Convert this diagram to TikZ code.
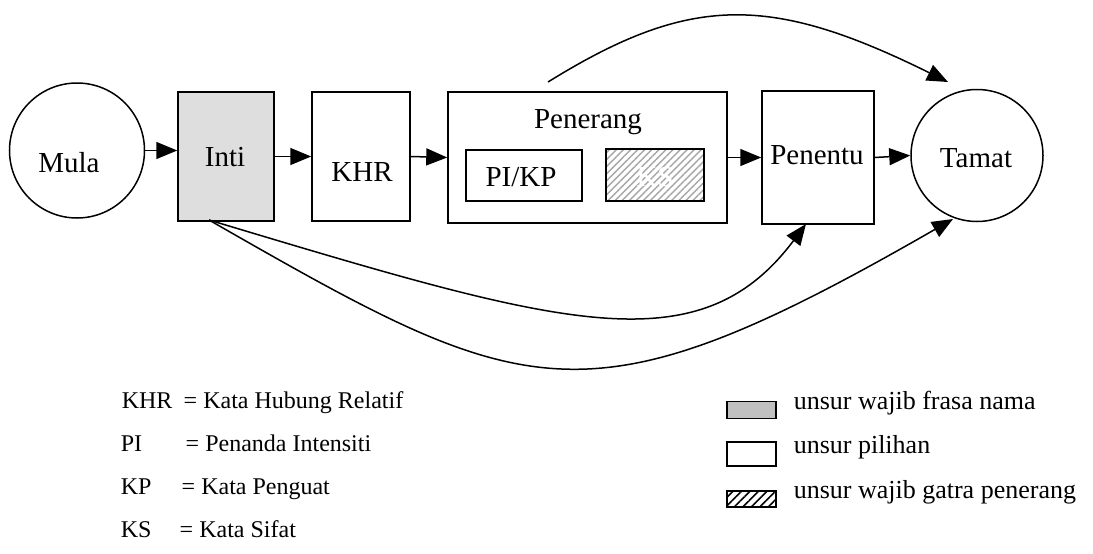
\documentclass[tikz,border=0pt]{standalone}
\usepackage{fontspec}
\setmainfont{Liberation Serif}
\usetikzlibrary{arrows.meta,patterns.meta}
\begin{document}
\begin{tikzpicture}[x=1pt,y=-1pt,
  line width=1.5pt,
  mainfont/.style={font=\fontsize{29}{32}\selectfont},
  lbl/.style={mainfont, anchor=base, inner sep=0},
  legl/.style={font=\fontsize{24}{27}\selectfont, anchor=base west, inner sep=0},
  legr/.style={font=\fontsize{26}{29}\selectfont, anchor=base west, inner sep=0},
  box/.style={draw, line width=1.5pt, inner sep=0},
  circ/.style={draw, circle, line width=1.5pt, inner sep=0},
  arr/.style={-{Triangle[length=21pt,width=17pt]}, line width=1.5pt},
  hatchgray/.style={pattern={Lines[angle=45,distance=5pt,line width=1.4pt]}, pattern color=gray!70},
  hatchblack/.style={pattern={Lines[angle=45,distance=6pt,line width=1.6pt]}, pattern color=black}
]
\useasboundingbox (0,0) rectangle (1093,554);

% shapes
\node[circ, minimum size=135pt] (mula) at (77,150.5) {};
\node[box, fill={rgb,255:red,222;green,222;blue,222}, minimum width=96pt, minimum height=129pt] (inti) at (226,156.5) {};
\node[box, minimum width=98pt, minimum height=129pt] (khr) at (361,156.5) {};
\node[box, minimum width=279pt, minimum height=131pt] (penerang) at (587.5,157.5) {};
\node[box, minimum width=116pt, minimum height=51pt] (pikp) at (524,175.5) {};
\node[box, hatchgray, minimum width=98pt, minimum height=52pt] (ks) at (655,175) {};
\node[box, minimum width=112pt, minimum height=133pt] (penentu) at (818,157.5) {};
\node[circ, minimum size=132pt] (tamat) at (977,155.5) {};

% texts
\node[lbl] (mulat) at (69,172) {Mula};
\node[lbl] (intit) at (225,166) {Inti};
\node[lbl] (khrt) at (362,181) {KHR};
\node[lbl] (penerangt) at (588,128) {Penerang};
\node[lbl] (pikpt) at (521,186) {PI/KP};
\node[lbl, text=white] (kst) at (655,186) {KS};
\node[lbl] (penentut) at (817,164) {Penentu};
\node[lbl] (tamatt) at (976,167) {Tamat};

% straight connectors
\draw[arr] (mula.east) -- (mula.east -| inti.west);
\draw[arr] (inti.east) -- (khr.west);
\draw[arr] (khr.east) -- (penerang.west);
\draw[arr] (penerang.east) -- (penentu.west);
\draw[arr] (penentu.east) -- (tamat.west);

% curved connectors
\coordinate (arcA) at (548,82);
\coordinate (arcB) at (948,82);
\coordinate (intiB) at (209,220);
\coordinate (penentuB) at (806,224);
\coordinate (tamatB) at (953,219);
\draw[arr] (arcA) .. controls (690,-6) and (770,-6) .. (arcB);
\draw[arr] (intiB) .. controls (559,325) and (698,368) .. (penentuB);
\draw[arr] (intiB) .. controls (527,402) and (583,432) .. (tamatB);

% left legend
\node[legl] (lk1) at (121,408) {\makebox[62pt][l]{KHR}= Kata Hubung Relatif};
\node[legl] (lk2) at (120,451) {\makebox[65pt][l]{PI}= Penanda Intensiti};
\node[legl] (lk3) at (120,494) {\makebox[61pt][l]{KP}= Kata Penguat};
\node[legl] (lk4) at (120,537) {\makebox[59pt][l]{KS}= Kata Sifat};

% right legend
\node[box, fill={rgb,255:red,192;green,192;blue,192}, minimum width=49pt, minimum height=17pt] (lgA) at (751.5,410) {};
\node[box, minimum width=49pt, minimum height=24pt] (lgB) at (751.5,454) {};
\node[box, hatchblack, minimum width=49pt, minimum height=16pt] (lgC) at (751.5,499) {};
\node[legr] (lt1) at (793,409) {unsur wajib frasa nama};
\node[legr] (lt2) at (793,453) {unsur pilihan};
\node[legr] (lt3) at (793,498) {unsur wajib gatra penerang};
\end{tikzpicture}
\end{document}
